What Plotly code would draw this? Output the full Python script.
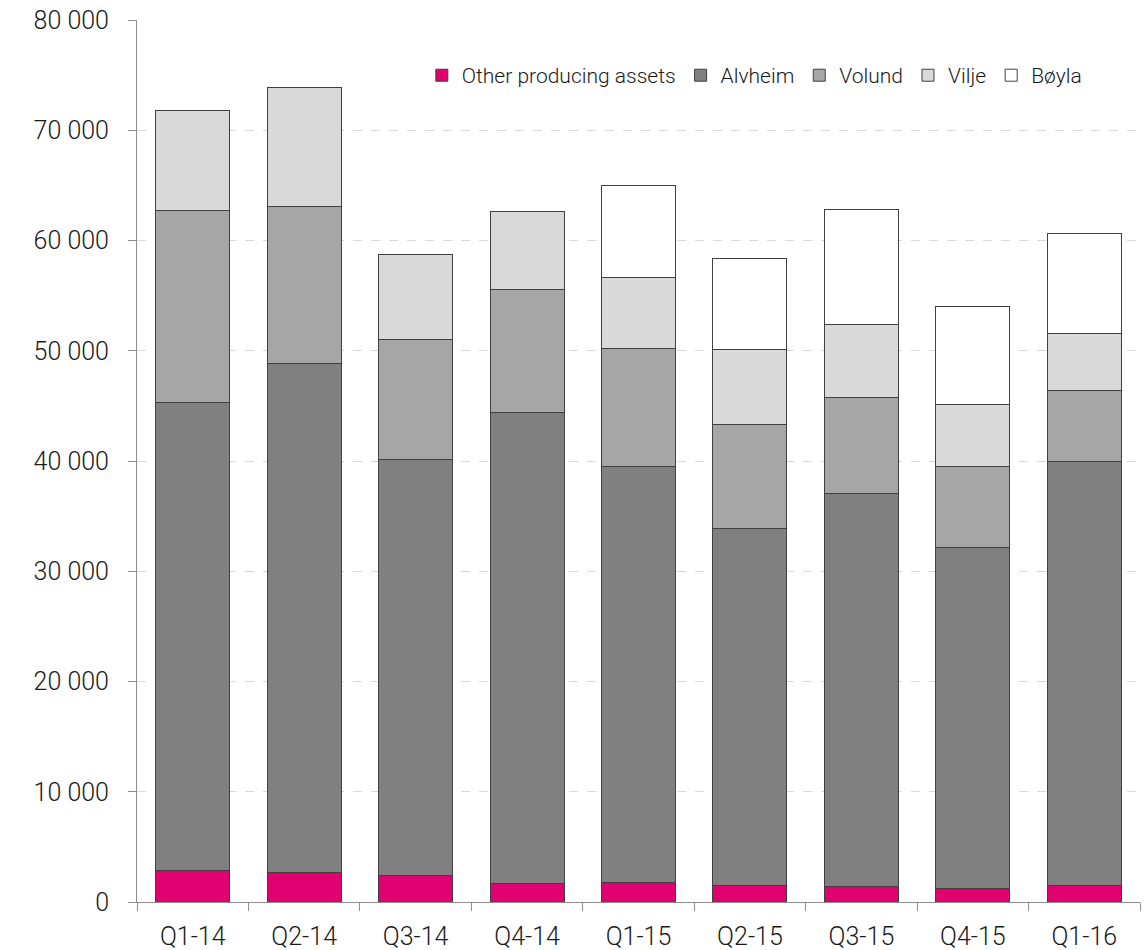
import plotly.graph_objects as go

quarters = ["Q1-14", "Q2-14", "Q3-14", "Q4-14", "Q1-15", "Q2-15", "Q3-15", "Q4-15", "Q1-16"]
other = [2900, 2720, 2360, 1720, 1750, 1540, 1390, 1270, 1540]
alvheim = [42390, 46080, 37800, 42720, 37750, 32380, 35620, 30840, 38430]
volund = [17390, 14270, 10820, 11130, 10700, 9410, 8710, 7370, 6440]
vilje = [9070, 10790, 7710, 7100, 6410, 6740, 6620, 5690, 5130]
boyla = [0, 0, 0, 0, 8350, 8320, 10490, 8860, 9110]

series = [
    ("Other producing assets", other, "#E00070"),
    ("Alvheim", alvheim, "#808080"),
    ("Volund", volund, "#A6A6A6"),
    ("Vilje", vilje, "#D9D9D9"),
    ("Bøyla", boyla, "#FFFFFF"),
]

fig = go.Figure()
for name, vals, col in series:
    fig.add_trace(go.Bar(
        x=quarters, y=vals, name=name,
        marker=dict(color=col, line=dict(color="#404040", width=1)),
    ))

FONT = "Roboto, Liberation Sans, Arial, sans-serif"
fig.update_layout(
    width=1148, height=950,
    barmode="stack", bargap=0.336,
    plot_bgcolor="white", paper_bgcolor="white",
    margin=dict(l=137, r=8, t=20, b=48, autoexpand=False),
    separators=". ",
    font=dict(family=FONT, size=25, color="#1a1a1a", weight=300),
    showlegend=True,
    legend=dict(
        orientation="h", x=0.947, xanchor="right", y=0.937, yanchor="middle",
        font=dict(size=21, color="#1a1a1a", weight=300), traceorder="normal",
        itemwidth=30, bgcolor="rgba(0,0,0,0)",
    ),
)
fig.update_yaxes(
    range=[0, 80000], dtick=10000, tickformat=",d",
    showgrid=True, gridcolor="#d9d9d9", griddash="dash", gridwidth=1,
    showline=True, linecolor="#8c8c8c", linewidth=1,
    ticks="outside", ticklen=8, tickcolor="#8c8c8c",
    zeroline=False, tickfont=dict(size=25), automargin=False,
    ticklabelstandoff=14,
)
fig.update_xaxes(
    showline=True, linecolor="#8c8c8c", linewidth=1,
    ticks="outside", ticklen=8, tickcolor="#8c8c8c", tickson="boundaries",
    tickfont=dict(size=25), automargin=False, ticklabelstandoff=12,
)

fig.write_html(
    "out.html",
    config={"displayModeBar": False},
    post_script="document.body.style.margin='0';document.body.style.overflow='hidden';",
)
